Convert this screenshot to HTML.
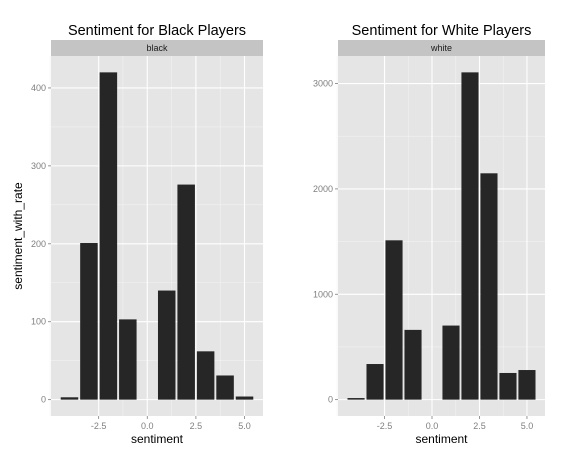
<!DOCTYPE html>
<html><head><meta charset="utf-8"><style>
body{margin:0;background:#fff;}
svg{font-family:"Liberation Sans",Arial,sans-serif;}
</style></head><body>
<svg id="chart" width="564" height="458" viewBox="0 0 564 458"></svg>
<script>
const categories = [-4,-3,-2,-1,0,1,2,3,4,5];
const blackValues = [3,201,420,103,0,140,276,62,31,4];
const whiteValues = [15,338,1512,662,0,703,3106,2148,253,281];
const xTicks = [-2.5,0.0,2.5,5.0];
const xTickLabels = ["-2.5","0.0","2.5","5.0"];
const blackYTicks = [0,100,200,300,400];
const whiteYTicks = [0,1000,2000,3000];

const NS="http://www.w3.org/2000/svg";
const svg=document.getElementById('chart');
function mk(tag,attrs,parent){const e=document.createElementNS(NS,tag);for(const k in attrs)e.setAttribute(k,attrs[k]);(parent||svg).appendChild(e);return e;}

function panel(opts){
  const {x0,x1,y0,y1,values,yTicks,title,strip,key}=opts;
  const g=mk('g',{});
  
  
  const xmin=-4.95,xmax=5.95;
  const maxV=Math.max(...values);
  const ymin=-0.05*maxV,ymax=1.05*maxV;
  const sx=v=>x0+(v-xmin)/(xmax-xmin)*(x1-x0);
  const sy=v=>y1-(v-ymin)/(ymax-ymin)*(y1-y0);
  const bg=mk('rect',{x:x0,y:y0,width:x1-x0,height:y1-y0,fill:'#e5e5e5'},g);
  
  
  // minor grid
  for(let i=0;i<xTicks.length-1;i++){const m=(xTicks[i]+xTicks[i+1])/2;mk('line',{x1:sx(m),x2:sx(m),y1:y0,y2:y1,stroke:'#f2f2f2','stroke-width':0.6},g);}
  mk('line',{x1:sx(-5),x2:sx(-5),y1:y0,y2:y1,stroke:'#f2f2f2','stroke-width':0.6},g);
  for(let i=0;i<yTicks.length-1;i++){const m=(yTicks[i]+yTicks[i+1])/2;mk('line',{x1:x0,x2:x1,y1:sy(m),y2:sy(m),stroke:'#f2f2f2','stroke-width':0.6},g);}
  // major grid
  xTicks.forEach(t=>mk('line',{x1:sx(t),x2:sx(t),y1:y0,y2:y1,stroke:'#fff','stroke-width':1.1},g));
  yTicks.forEach(t=>mk('line',{x1:x0,x2:x1,y1:sy(t),y2:sy(t),stroke:'#fff','stroke-width':1.1},g));
  // bars
  const w=0.9;
  categories.forEach((c,i)=>{
    const v=values[i]; if(v<=0) return;
    const r=mk('rect',{x:sx(c-w/2),y:sy(v),width:sx(c+w/2)-sx(c-w/2),height:sy(0)-sy(v),fill:'#262626'},g);
    
    
  });
  // ticks and labels
  xTicks.forEach((t,i)=>{
    mk('line',{x1:sx(t),x2:sx(t),y1:y1,y2:y1+3,stroke:'#7f7f7f','stroke-width':0.8},g);
    const tx=mk('text',{x:sx(t),y:y1+13,'font-size':9,fill:'#7f7f7f','text-anchor':'middle'},g);
    tx.textContent=xTickLabels[i];
    
    
  });
  yTicks.forEach(t=>{
    mk('line',{x1:x0-3,x2:x0,y1:sy(t),y2:sy(t),stroke:'#7f7f7f','stroke-width':0.8},g);
    const tx=mk('text',{x:x0-5,y:sy(t)+3,'font-size':9,fill:'#7f7f7f','text-anchor':'end'},g);
    tx.textContent=String(t);
    
    
  });
  // strip
  const sr=mk('rect',{x:x0,y:y0-16,width:x1-x0,height:16,fill:'#c4c4c4'},g);
  
  
  const st=mk('text',{x:(x0+x1)/2,y:y0-5,'font-size':9,fill:'#1a1a1a','text-anchor':'middle'},g);
  st.textContent=strip;
  
  
  const tt=mk('text',{x:(x0+x1)/2,y:35,'font-size':14.5,fill:'#000','text-anchor':'middle'},g);
  tt.textContent=title;
  
  
  const xt=mk('text',{x:(x0+x1)/2,y:y1+27,'font-size':12,fill:'#000','text-anchor':'middle'},g);
  xt.textContent='sentiment';
  
  
}
panel({x0:51,x1:263,y0:56,y1:416,values:blackValues,yTicks:blackYTicks,title:'Sentiment for Black Players',strip:'black',key:'black'});
panel({x0:338,x1:545,y0:56,y1:416,values:whiteValues,yTicks:whiteYTicks,title:'Sentiment for White Players',strip:'white',key:'white'});
const yt=mk('text',{x:0,y:0,'font-size':12,fill:'#000','text-anchor':'middle',transform:'translate(22,236) rotate(-90)'});
yt.textContent='sentiment_with_rate';


</script>
</body></html>
